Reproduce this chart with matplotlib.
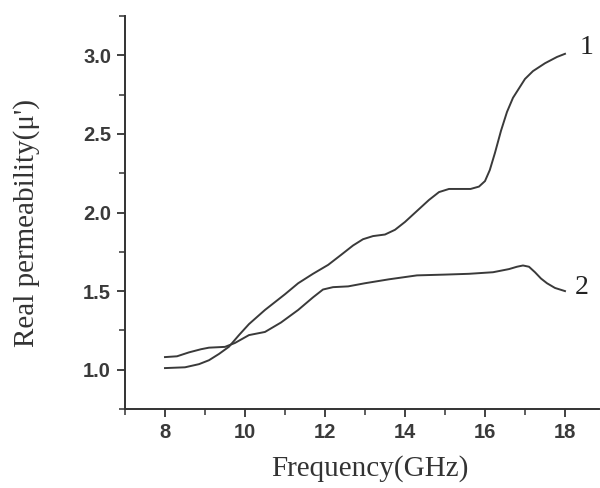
import matplotlib
matplotlib.use("Agg")
import matplotlib.pyplot as plt
from matplotlib.ticker import MultipleLocator

# frequency (GHz) / real permeability, sample 1
freq_1 = [8.0, 8.5, 8.85, 9.1, 9.35, 9.6, 9.85, 10.1, 10.5, 11.0, 11.33, 11.7,
          12.08, 12.4, 12.7, 12.95, 13.2, 13.5, 13.75, 14.0, 14.3, 14.6, 14.85,
          15.1, 15.4, 15.64, 15.85, 16.0, 16.12, 16.25, 16.4, 16.55, 16.7,
          16.85, 17.0, 17.2, 17.5, 17.8, 18.0]
mu_1 = [1.01, 1.015, 1.035, 1.06, 1.10, 1.146, 1.22, 1.29, 1.38, 1.48, 1.55,
        1.61, 1.667, 1.73, 1.79, 1.83, 1.85, 1.86, 1.89, 1.94, 2.01, 2.08,
        2.13, 2.15, 2.15, 2.15, 2.165, 2.2, 2.27, 2.38, 2.52, 2.64, 2.73,
        2.79, 2.85, 2.90, 2.95, 2.99, 3.01]

# sample 2
freq_2 = [8.0, 8.3, 8.6, 8.9, 9.1, 9.5, 9.75, 10.1, 10.5, 10.9, 11.33, 11.7,
          11.95, 12.2, 12.58, 13.0, 13.6, 14.3, 15.0, 15.6, 16.2, 16.6, 16.8,
          16.95, 17.1, 17.25, 17.4, 17.55, 17.75, 18.0]
mu_2 = [1.08, 1.085, 1.11, 1.13, 1.14, 1.145, 1.17, 1.22, 1.24, 1.30, 1.38,
        1.46, 1.51, 1.525, 1.53, 1.55, 1.575, 1.60, 1.605, 1.61, 1.62, 1.64,
        1.655, 1.663, 1.655, 1.62, 1.58, 1.55, 1.52, 1.50]

fig = plt.figure(figsize=(6, 4.88), dpi=100)
ax = fig.add_axes([0.2083, 0.162, 0.79, 0.805])

ax.plot(freq_1, mu_1, color="#3a3a3a", lw=1.4)
ax.plot(freq_2, mu_2, color="#3a3a3a", lw=1.4)

serif = ["Liberation Serif", "DejaVu Serif"]
ax.text(18.55, 3.05, "1", family=serif, fontsize=20, ha="center", va="center", color="#222222")
ax.text(18.42, 1.52, "2", family=serif, fontsize=20, ha="center", va="center", color="#222222")

ax.set_xlim(7, 18.85)
ax.set_ylim(0.75, 3.25)
ax.xaxis.set_minor_locator(MultipleLocator(1))
ax.yaxis.set_minor_locator(MultipleLocator(0.25))
ax.set_xticks([8, 10, 12, 14, 16, 18])
ax.set_yticks([1.0, 1.5, 2.0, 2.5, 3.0])
ax.set_yticklabels(["1.0", "1.5", "2.0", "2.5", "3.0"])

for side in ("top", "right"):
    ax.spines[side].set_visible(False)
for side in ("left", "bottom"):
    ax.spines[side].set_linewidth(1.4)
    ax.spines[side].set_color("#333333")

ax.tick_params(which="major", direction="out", length=6, width=1.3, color="#333333",
               labelsize=14.5, labelcolor="#3a3a3a", pad=4)
ax.tick_params(which="minor", direction="out", length=4, width=1.1, color="#333333")
for lab in ax.get_xticklabels() + ax.get_yticklabels():
    lab.set_family(["Liberation Sans", "DejaVu Sans"])
    lab.set_fontweight("bold")

ax.set_xlabel("Frequency(GHz)", family=serif, fontsize=21, color="#333333")
ax.set_ylabel("Real permeability(\u03bc')", family=serif, fontsize=21, color="#333333")
ax.xaxis.set_label_coords(0.517, -0.118)
ax.yaxis.set_label_coords(-0.18, 0.473)

fig.savefig("out.png", dpi=100)
